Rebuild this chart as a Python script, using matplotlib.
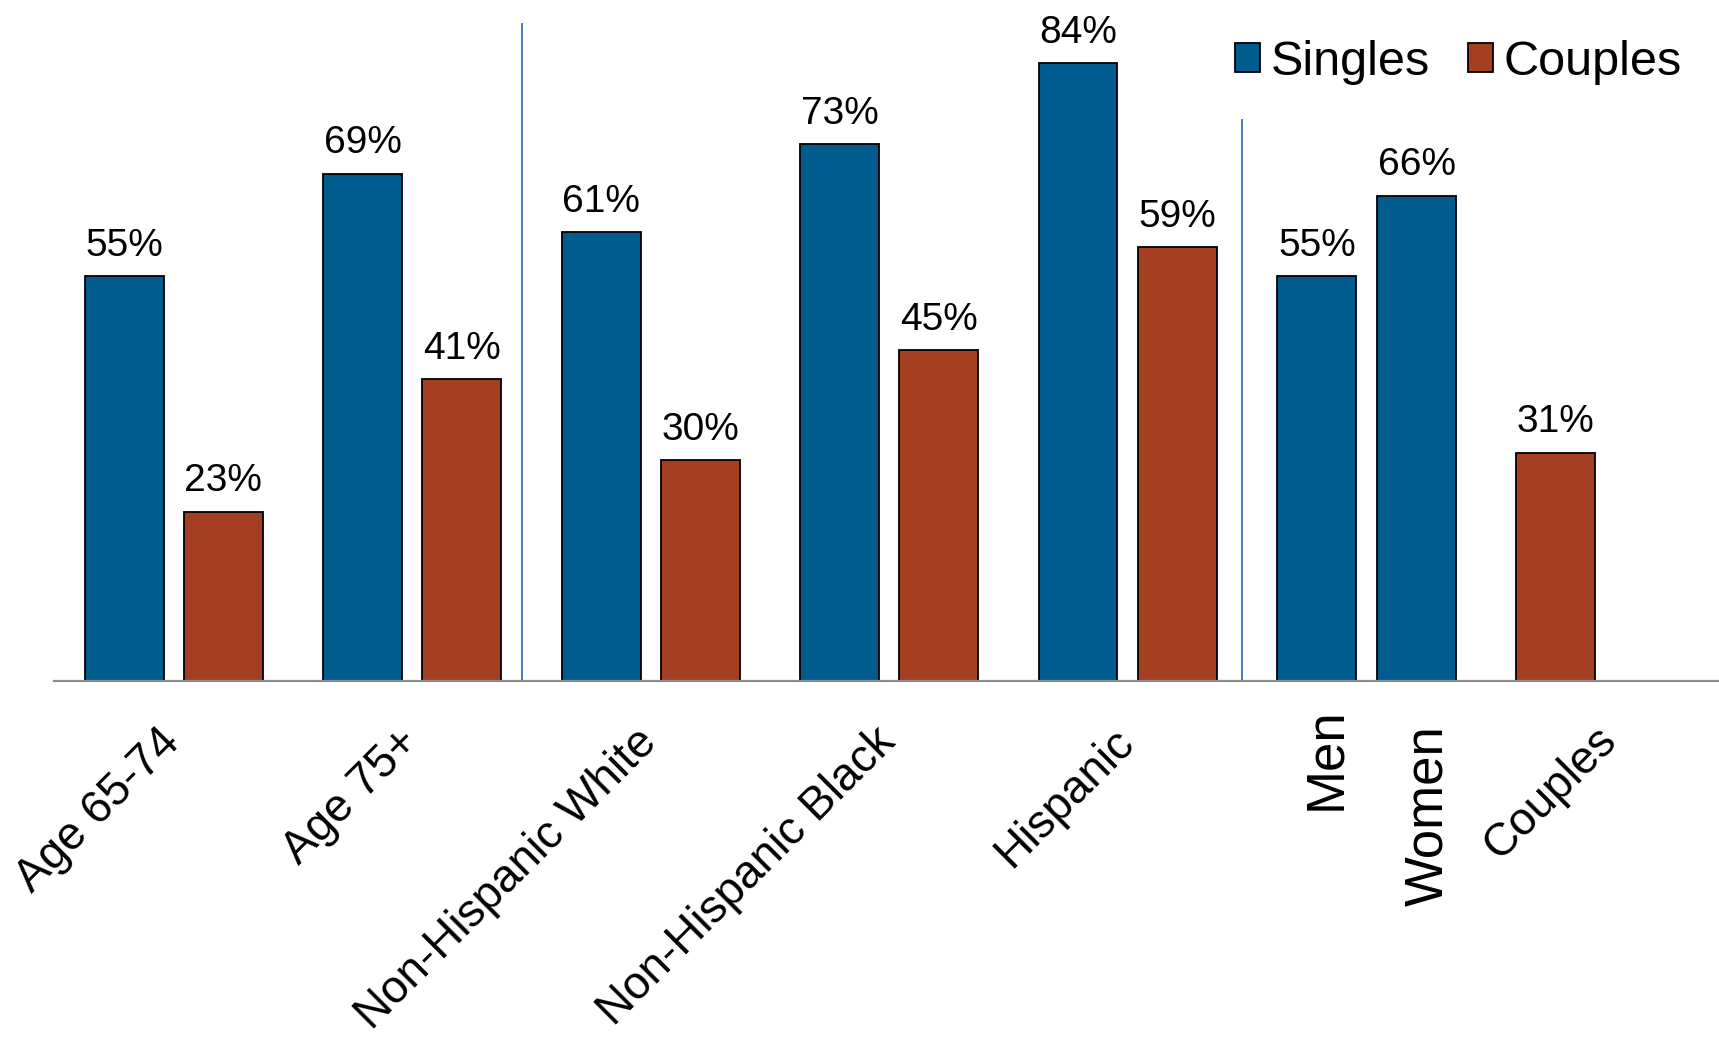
import matplotlib.pyplot as plt

plt.rcParams['font.family'] = ['Liberation Sans', 'DejaVu Sans']

# values (%)
groups = ['Age 65-74', 'Age 75+', 'Non-Hispanic White', 'Non-Hispanic Black', 'Hispanic']
singles = [55, 69, 61, 73, 84]
couples = [23, 41, 30, 45, 59]

sex_labels = ['Men', 'Women']
sex_singles = [55, 66]
all_couples_label = 'Couples'
all_couples = [31]

blue = '#005B8E'
rust = '#A33F20'
sep_color = '#4A7EBB'

fig = plt.figure(figsize=(17.19, 10.38), dpi=100)
ax = fig.add_axes([0.0314, 0.344, 0.9686, 0.656])

w = 0.331
off = 0.208
xs = list(range(len(groups)))
sx = [x - off for x in xs]
cx = [x + off for x in xs]
sex_x = [5.0 - 0.206, 5.0 + 0.213]
cpl_x = [5.796]

kw = dict(width=w, edgecolor='black', linewidth=1.3)
b1 = ax.bar(sx, singles, color=blue, label='Singles', **kw)
b2 = ax.bar(cx, couples, color=rust, label='Couples', **kw)
b3 = ax.bar(sex_x, sex_singles, color=blue, **kw)
b4 = ax.bar(cpl_x, all_couples, color=rust, **kw)

for b in (b1, b2, b3, b4):
    ax.bar_label(b, labels=[f'{v:.0f}%' for v in b.datavalues],
                 padding=9, fontsize=28)

# group separators
ax.plot([1.459, 1.459], [0, 89.3], color=sep_color, lw=1.4)
ax.plot([4.479, 4.479], [0, 76.3], color=sep_color, lw=1.4)

ax.set_xlim(-0.5025, 6.48)
ax.set_ylim(0, 92.6)
ax.set_xticks([])
ax.set_yticks([])
for s in ('top', 'right', 'left'):
    ax.spines[s].set_visible(False)
ax.spines['bottom'].set_color('#8C8C8C')
ax.spines['bottom'].set_linewidth(1.6)

# category labels under the axis
for x, lab in zip(xs, groups):
    ax.text(x - 0.067, -5.3, lab, rotation=45, rotation_mode='anchor',
            ha='right', va='top', fontsize=33, clip_on=False)
for x, lab, dx, dy in zip(sex_x, sex_labels, [0.037, 0.047], [-3.6, -6.0]):
    ax.text(x + dx, dy, lab, rotation=90, rotation_mode='anchor',
            ha='right', va='center', fontsize=38, clip_on=False)
ax.text(cpl_x[0] + 0.16, -5.0, all_couples_label, rotation=45, rotation_mode='anchor',
        ha='right', va='top', fontsize=33, clip_on=False)

fig.legend(handles=[b1, b2], loc='upper right', bbox_to_anchor=(0.9785, 0.9617),
           ncol=2, frameon=False, fontsize=35, borderpad=0, borderaxespad=0,
           handlelength=0.52, handleheight=0.52, handletextpad=0.22,
           columnspacing=0.77)

fig.savefig('out.png', dpi=100)
